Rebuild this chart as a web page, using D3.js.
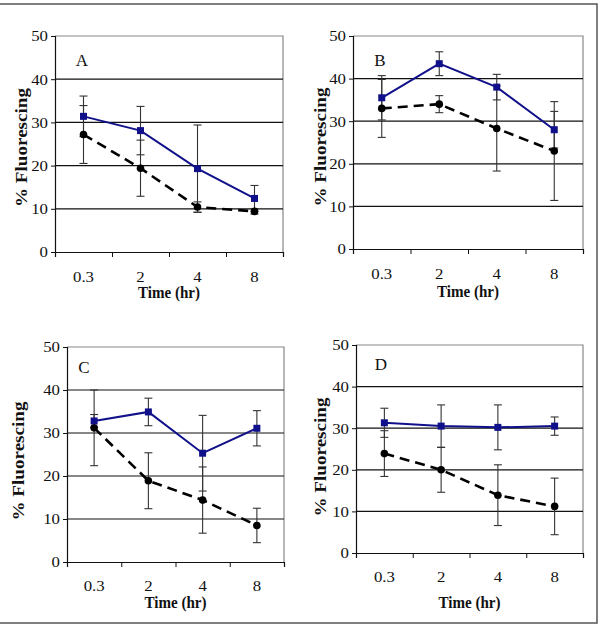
<!DOCTYPE html>
<html><head><meta charset="utf-8">
<script src="https://cdn.jsdelivr.net/npm/d3@7"></script>
<style>body{margin:0;background:#fff}svg{display:block}</style>
</head><body>
<svg id="c" width="600" height="626"></svg>
<script>
const categories = ["0.3","2","4","8"];
const yTicks = [0,10,20,30,40,50];
const panelLabels = ["A","B","C","D"];
const yTitle = "% Fluorescing";
const xTitle = "Time (hr)";

const blueA = [31.4, 28.1, 19.3, 12.4], blueErrA = [4.7, 5.6, 10.1, 3.0];
const blackA = [27.2, 19.4, 10.4, 9.4], blackErrA = [6.7, 6.5, 1.2, 0.6];
const blueB = [35.5, 43.5, 38.0, 28.0], blueErrB = [5.2, 2.8, 3.0, 4.3];
const blackB = [33.0, 34.0, 28.3, 23.0], blackErrB = [6.8, 2.0, 10.0, 11.6];
const blueC = [32.8, 34.9, 25.3, 31.1], blueErrC = [1.5, 3.2, 8.8, 4.1];
const blackC = [31.2, 18.9, 14.4, 8.5], blackErrC = [8.8, 6.5, 7.7, 4.0];
const blueD = [31.3, 30.5, 30.2, 30.5], blueErrD = [3.5, 5.1, 5.4, 2.2];
const blackD = [23.9, 20.0, 13.9, 11.2], blackErrD = [5.5, 5.4, 7.3, 6.8];

const layouts = [
  {x0:55, x1:283, y0:36, y1:252, tickY:282, titleY:298, ylx:22, yly:147.5, lx:82, ly:60},
  {x0:353, x1:583, y0:36, y1:249, tickY:279, titleY:297, ylx:321, yly:147, lx:380, ly:60},
  {x0:67, x1:284, y0:347, y1:562, tickY:591, titleY:608, ylx:19, yly:461, lx:84, ly:367},
  {x0:356, x1:583, y0:345, y1:553, tickY:582, titleY:608, ylx:321, yly:457, lx:381, ly:364}
];
const panels = [
  {blue:blueA, blueErr:blueErrA, black:blackA, blackErr:blackErrA},
  {blue:blueB, blueErr:blueErrB, black:blackB, blackErr:blackErrB},
  {blue:blueC, blueErr:blueErrC, black:blackC, blackErr:blackErrC},
  {blue:blueD, blueErr:blueErrD, black:blackD, blackErr:blackErrD}
];

const svg = d3.select("#c");
const serif = "Liberation Serif, Times New Roman, serif";
const NAVY = "#10108a";

svg.append("path").attr("d","M0,4H597V623H0").attr("fill","none").attr("stroke","#555").attr("stroke-width",1.5);

function stretch(sel, f){
  sel.each(function(){
    const w = this.getComputedTextLength();
    d3.select(this).attr("textLength", w*f).attr("lengthAdjust","spacingAndGlyphs");
  });
}

panels.forEach((p,i)=>{
  const L = layouts[i];
  const g = svg.append("g");
  const x = d3.scaleBand().domain(categories).range([L.x0,L.x1]).padding(0);
  const xb = d3.scaleLinear().domain([0,categories.length]).range([L.x0,L.x1]);
  const y = d3.scaleLinear().domain([0,50]).range([L.y1,L.y0]);
  const cx = c => x(c)+x.bandwidth()/2;

  g.append("path").attr("d",`M${L.x0},${L.y0}H${L.x1}V${L.y1}`).attr("fill","none").attr("stroke","#888").attr("stroke-width",1.2);
  g.selectAll(".grid").data(yTicks.filter(t=>t>0&&t<50)).join("line")
    .attr("x1",L.x0).attr("x2",L.x1).attr("y1",d=>y(d)).attr("y2",d=>y(d))
    .attr("stroke","#111").attr("stroke-width",1.2);

  const ya = g.append("g").attr("transform",`translate(${L.x0},0)`)
    .call(d3.axisLeft(y).tickValues(yTicks).tickSize(4).tickPadding(3).tickFormat(d3.format("d")));
  ya.select(".domain").attr("stroke","#111").attr("stroke-width",1.2);
  ya.selectAll("line").attr("stroke","#111");
  ya.selectAll("text").attr("font-family",serif).attr("font-size",15).attr("fill","#111");
  stretch(ya.selectAll("text"), 1.12);

  const xa = g.append("g").attr("transform",`translate(0,${L.y1})`)
    .call(d3.axisBottom(xb).tickValues(d3.range(categories.length+1)).tickSize(5).tickFormat(""));
  xa.select(".domain").attr("stroke","#111").attr("stroke-width",1.2);
  xa.selectAll("line").attr("stroke","#111");
  const xl = g.selectAll(".xl").data(categories).join("text")
    .attr("x",d=>cx(d)).attr("y",L.tickY).attr("text-anchor","middle")
    .attr("font-family",serif).attr("font-size",15).attr("fill","#111").text(d=>d);
  stretch(xl, 1.12);

  g.append("text").attr("x",(L.x0+L.x1)/2).attr("y",L.titleY).attr("text-anchor","middle")
    .attr("font-family",serif).attr("font-size",16).attr("font-weight","bold").attr("fill","#111")
    .attr("textLength",62).attr("lengthAdjust","spacingAndGlyphs").text(xTitle);
  g.append("text").attr("transform",`translate(${L.ylx+5},${L.yly}) rotate(-90)`).attr("text-anchor","middle")
    .attr("font-family",serif).attr("font-size",16).attr("font-weight","bold").attr("fill","#111")
    .attr("textLength",119).attr("lengthAdjust","spacingAndGlyphs").text(yTitle);
  g.append("text").attr("x",L.lx).attr("y",L.ly+6).attr("text-anchor","middle")
    .attr("font-family",serif).attr("font-size",17).attr("fill","#111").text(panelLabels[i]);

  const drawErr = (vals, errs) => {
    const eg = g.append("g").attr("stroke","#333").attr("stroke-width",1.1);
    categories.forEach((c,k)=>{
      const hi = y(vals[k]+errs[k]), lo = y(vals[k]-errs[k]), xx = cx(c);
      eg.append("line").attr("x1",xx).attr("x2",xx).attr("y1",hi).attr("y2",lo);
      eg.append("line").attr("x1",xx-4).attr("x2",xx+4).attr("y1",hi).attr("y2",hi);
      eg.append("line").attr("x1",xx-4).attr("x2",xx+4).attr("y1",lo).attr("y2",lo);
    });
  };
  drawErr(p.black, p.blackErr);
  drawErr(p.blue, p.blueErr);

  const line = d3.line().x((d,k)=>cx(categories[k])).y(d=>y(d));
  g.append("path").datum(p.black).attr("d",line).attr("fill","none")
    .attr("stroke","#000").attr("stroke-width",2.6).attr("stroke-dasharray","10,6");
  g.append("path").datum(p.blue).attr("d",line).attr("fill","none")
    .attr("stroke",NAVY).attr("stroke-width",2);

  g.selectAll(".dot").data(p.black).join("circle")
    .attr("cx",(d,k)=>cx(categories[k])).attr("cy",d=>y(d)).attr("r",3.8).attr("fill","#000");
  g.selectAll(".sq").data(p.blue).join("rect")
    .attr("x",(d,k)=>cx(categories[k])-3.5).attr("y",d=>y(d)-3.5).attr("width",7).attr("height",7).attr("fill",NAVY);
});
</script>
</body></html>
